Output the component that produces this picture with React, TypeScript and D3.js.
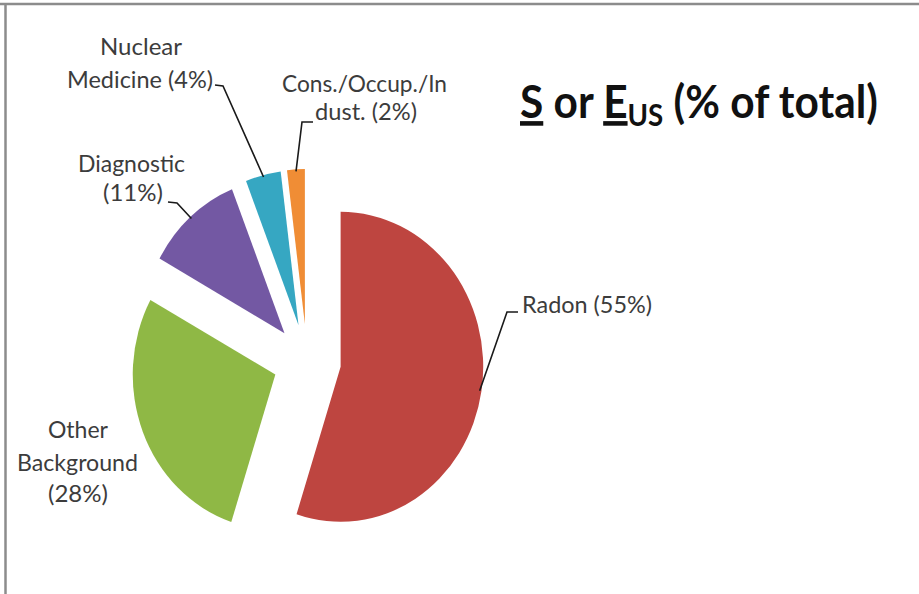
import React, { useLayoutEffect, useRef } from "react";
import * as d3 from "d3";

// ---------- data ----------
const categories = ["Radon", "Other Background", "Diagnostic", "Nuclear Medicine", "Cons./Occup./Indust."];
const values = [55, 28, 11, 4, 2];
const colors = ["#BE4540", "#8FB845", "#7358A3", "#36A7C2", "#F08D35"];
const labelLines = [
  ["Radon (55%)"],
  ["Other", "Background", "(28%)"],
  ["Diagnostic", "(11%)"],
  ["Nuclear", "Medicine (4%)"],
  ["Cons./Occup./In", "dust. (2%)"],
];

// ---------- layout ----------
const W = 919;
const H = 594;
const CX = 307;
const CY = 361;
const R = 155;
const SX = 0.92;
const EXPLODE = 37;

// per label line: [left x, baseline y, width]
const labelBoxes: [number, number, number][][] = [
  [[522, 313, 130]],
  [[48, 438, 60], [17, 471, 121], [48, 502, 60]],
  [[78, 172, 107], [103, 201, 60]],
  [[100, 55, 82], [67, 88, 146]],
  [[282, 92, 165], [315, 120, 102]],
];
// leader stubs [x0,y0,x1,y1] or null
const leaderStubs: ([number, number, number, number] | null)[] = [
  [518, 312, 507, 312],
  null,
  [168, 202, 177, 203],
  [215, 85, 223, 86],
  [313, 122, 302, 122],
];

export default function App() {
  const titleRef = useRef<SVGTextElement>(null);

  useLayoutEffect(() => {
    const el = titleRef.current;
    if (!el) return;
    const bb = el.getBBox();
    const s = 358 / bb.width;
    el.setAttribute("transform", `translate(${520 - bb.x * s},118) scale(${s},1)`);
  }, []);

  const pie = d3
    .pie<number>()
    .sort(null)
    .value((d) => d)
    .startAngle(0)
    .endAngle(2 * Math.PI);
  const arcs = pie(values);
  const arc = d3.arc<d3.PieArcDatum<number>>().innerRadius(0).outerRadius(R);

  const mid = (a: d3.PieArcDatum<number>) => (a.startAngle + a.endAngle) / 2;

  return (
    <svg
      width={W}
      height={H}
      style={{ position: "absolute", left: 0, top: 0, background: "#fff" }}
      fontFamily="Lato, 'Open Sans', sans-serif"
    >
      <rect x={0} y={0} width={W} height={H} fill="#fff" />
      {/* frame */}
      <line x1={0} y1={4} x2={W} y2={4} stroke="#8c8c8c" strokeWidth={2.5} />
      <line x1={5.5} y1={3} x2={5.5} y2={H} stroke="#8c8c8c" strokeWidth={2.5} />

      {/* pie */}
      <g transform={`translate(${CX},${CY}) scale(${SX},1)`}>
        {arcs.map((a, i) => {
          const m = mid(a);
          const dx = EXPLODE * Math.sin(m);
          const dy = -EXPLODE * Math.cos(m);
          return (
            <path
              key={categories[i]}
              d={arc(a) || ""}
              transform={`translate(${dx},${dy})`}
              fill={colors[i]}
            />
          );
        })}
      </g>

      {/* leader lines */}
      {arcs.map((a, i) => {
        const stub = leaderStubs[i];
        if (!stub) return null;
        const m = mid(a);
        const rr = EXPLODE + R - 2;
        const ex = CX + SX * rr * Math.sin(m);
        const ey = CY - rr * Math.cos(m);
        return (
          <polyline
            key={"l" + i}
            points={`${stub[0]},${stub[1]} ${stub[2]},${stub[3]} ${ex},${ey}`}
            fill="none"
            stroke="#1a1a1a"
            strokeWidth={1.6}
          />
        );
      })}

      {/* labels */}
      {labelLines.map((lines, i) =>
        lines.map((t, j) => {
          const [x, y, w] = labelBoxes[i][j];
          return (
            <text
              key={`t${i}-${j}`}
              x={x}
              y={y}
              fontSize={23}
              fill="#3c3c3c"
              textLength={w}
              lengthAdjust="spacingAndGlyphs"
            >
              {t}
            </text>
          );
        })
      )}

      {/* title */}
      <text ref={titleRef} x={0} y={0} fontSize={46} fontWeight="bold" fill="#111">
        <tspan style={{ textDecoration: "underline" }}>S</tspan>
        <tspan> or </tspan>
        <tspan style={{ textDecoration: "underline" }}>E</tspan>
        <tspan fontSize={30} dy={8}>US</tspan>
        <tspan dy={-8}> (% of total)</tspan>
      </text>
    </svg>
  );
}
